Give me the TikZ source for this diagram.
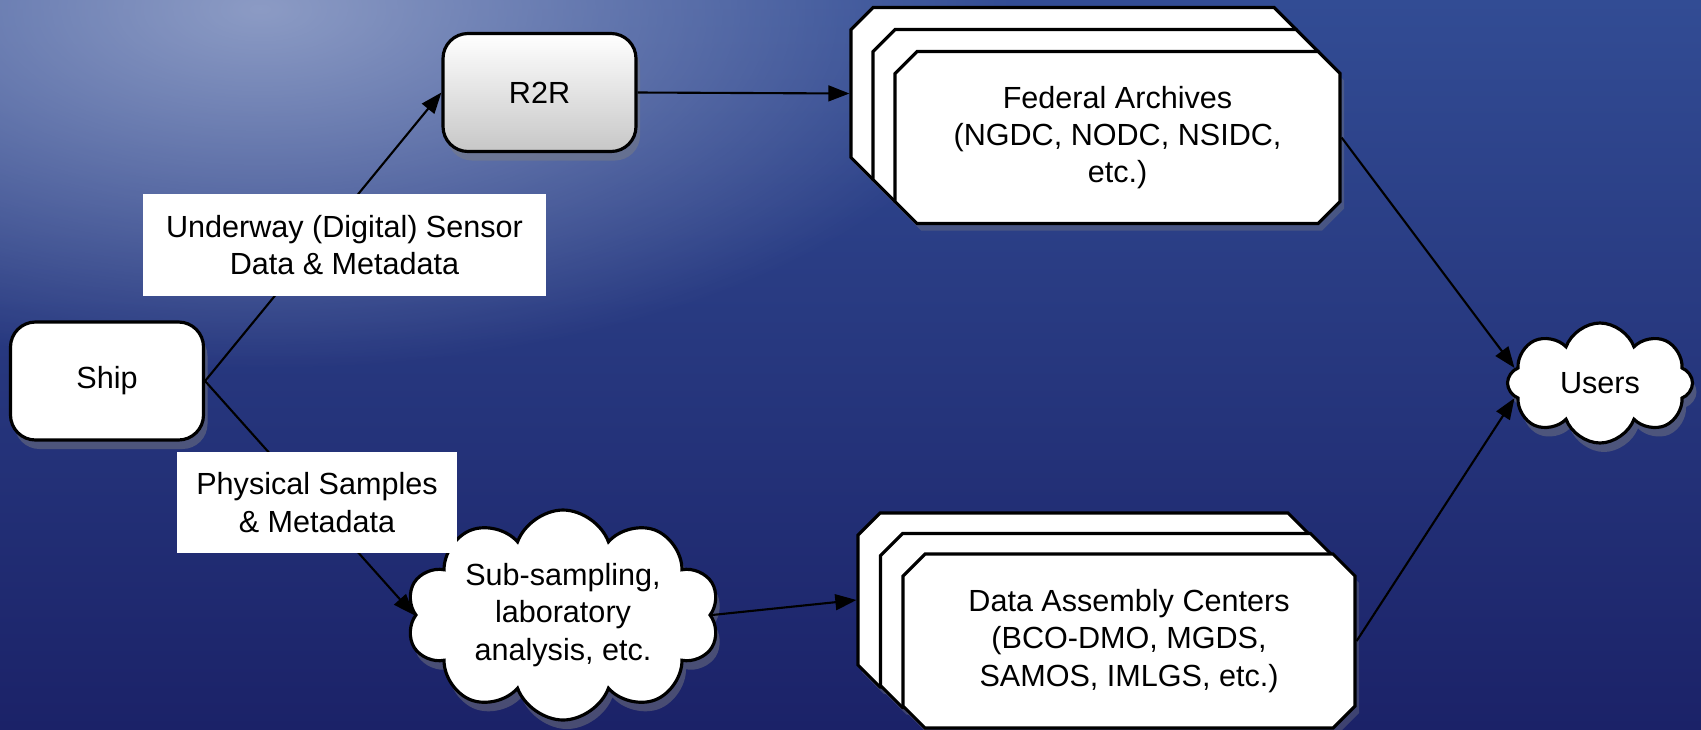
\documentclass[tikz,border=0pt]{standalone}
\usepackage{fontspec}
\setmainfont{Liberation Sans}
\usetikzlibrary{shapes,arrows.meta,positioning,shadows,fadings}

\definecolor{seadeep}{RGB}{27,34,104}
\definecolor{seamid}{RGB}{50,76,148}
\definecolor{seafoam}{RGB}{150,164,202}
\tikzfading[name=glowspot, inner color=transparent!0, outer color=transparent!100]

\begin{document}
\begin{tikzpicture}[auto, font=\fontsize{8.7}{10.6}\selectfont]
\tikzset{
    %Define standard arrow tip
    >={Triangle[length=6pt,width=4.5pt]},
    %Define style for rounded boxes
    unit/.style={
           rectangle,
           rounded corners=2.5mm,
           draw=black, line width=0.9pt,
           fill=white,
           minimum width=1.93cm,
           minimum height=1.18cm,
           drop shadow={opacity=0.45, shadow xshift=0.4mm, shadow yshift=-0.9mm},
           text centered},
    %Define style for clouds
    puff/.style={
           cloud, cloud puffs=9, cloud puff arc=140,
           cloud ignores aspect,
           draw=black, line width=0.9pt,
           fill=white, inner sep=0pt,
           drop shadow={opacity=0.45, shadow xshift=0.4mm, shadow yshift=-0.9mm},
           align=center},
    %Define style for stacked archive boxes
    archive/.style={
           chamfered rectangle,
           chamfered rectangle xsep=1.1mm,
           chamfered rectangle ysep=1.1mm,
           draw=black, line width=0.9pt,
           fill=white,
           minimum width=4.45cm,
           minimum height=1.72cm,
           drop shadow={opacity=0.35, shadow xshift=0.4mm, shadow yshift=-0.7mm},
           align=center},
    % Define style for labels on the arrows
    tag/.style={
           fill=white,
           inner sep=0pt,
           align=center},
    % Define arrow style
    flow/.style={
           ->,
           line width=0.6pt}
}
 \useasboundingbox (0,0) rectangle (17.01,7.29);
 % sea in the background
 \begin{scope}
   \clip (0,0) rectangle (17.01,7.29);
   \shade[top color=seamid, bottom color=seadeep] (0,0) rectangle (17.01,7.29);
   \fill[seafoam, path fading=glowspot, fill opacity=0.9] (2.6,7.2) ellipse (7.5 and 3.6);
 \end{scope}

 %nodes
 \node[unit] (ship) at (1.07,3.48) {Ship};
 \node[unit, top color=white, bottom color=black!22] (r2r) at (5.395,6.365) {R2R};
 \node[puff, cloud puffs=10, minimum width=3.13cm, minimum height=2.1cm] (lab) at (5.63,1.14)
   {Sub-sampling,\\laboratory\\analysis, etc.};
 \node[puff, cloud puffs=8, minimum width=1.85cm, minimum height=1.2cm] (users) at (16.0,3.46) {Users};

 % three sheets for the federal archives
 \node[archive] (fed3) at (10.735,6.355) {};
 \node[archive] (fed2) at ([shift={(0.22,-0.22)}]fed3) {};
 \node[archive] (fed) at ([shift={(0.22,-0.22)}]fed2)
   {Federal Archives\\(NGDC, NODC, NSIDC,\\etc.)};
 % and three for the data assembly centers
 \node[archive, minimum width=4.52cm, minimum height=1.74cm] (dac3) at (10.84,1.29) {};
 \node[archive, minimum width=4.52cm, minimum height=1.74cm] (dac2) at ([shift={(0.225,-0.205)}]dac3) {};
 \node[archive, minimum width=4.52cm, minimum height=1.74cm] (dac) at ([shift={(0.225,-0.205)}]dac2)
   {Data Assembly Centers\\(BCO-DMO, MGDS,\\SAMOS, IMLGS, etc.)};

 %arrows
 \draw[flow] (ship.east) -- (r2r.west);
 \draw[flow] (ship.east) -- (lab.west);
 \draw[flow] (r2r.east) -- (fed3.west);
 \draw[flow] (lab.east) -- (dac3.west);
 \draw[flow] (fed.east) -- (users.170);
 \draw[flow] (dac.east) -- (users.190);

 % labels sit on top of the arrows
 \node[tag, minimum width=4.03cm, minimum height=1.02cm] (digital) at (3.445,4.84)
   {Underway (Digital) Sensor\\Data \& Metadata};
 \node[tag, minimum width=2.8cm, minimum height=1.01cm] (samples) at (3.17,2.265)
   {Physical Samples\\\& Metadata};
\end{tikzpicture}
\end{document}
